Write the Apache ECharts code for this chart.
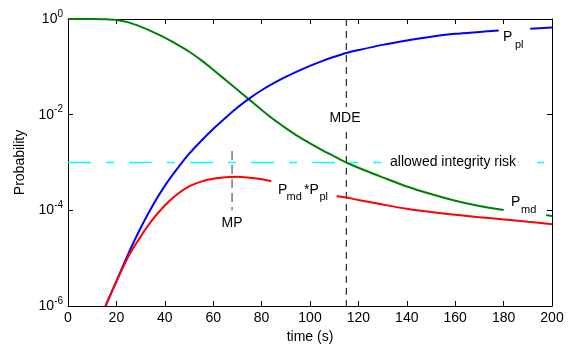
<!DOCTYPE html>
<html>
<head>
<meta charset="utf-8">
<script src="https://cdn.jsdelivr.net/npm/echarts@6/dist/echarts.min.js"></script>
<style>
html,body{margin:0;padding:0;background:#fff;}
#chart{width:569px;height:345px;}
</style>
</head>
<body>
<div id="chart"></div>
<script>
// ---- data ----
const xTicks = [0, 20, 40, 60, 80, 100, 120, 140, 160, 180, 200];
const yTickExponents = [0, -2, -4, -6];

const tGreen = [0,10,15,20,25,30,35,40,45,50,55,60,65,70,75,80,85,90,95,100,105,110,115,120,130,140,150,160,170,180];
const pGreen = [1,1,0.989,0.955,0.851,0.692,0.537,0.407,0.295,0.209,0.138,0.0871,0.0537,0.0331,0.0204,0.0126,0.00794,0.00525,0.00355,0.00251,0.00182,0.00135,0.00100,0.000776,0.000490,0.000316,0.000219,0.000158,0.000123,0.000102];
const tGreen2 = [197.5, 200];
const pGreen2 = [7.94e-5, 7.59e-5];

const tBlue = [15.5,20,25,30,35,40,45,50,55,60,65,70,75,80,85,90,95,100,105,110,115,120,130,140,150,160,170,178];
const pBlue = [1e-6,3.31e-6,1.26e-5,4.27e-5,1.26e-4,3.24e-4,7.24e-4,1.51e-3,2.82e-3,5.01e-3,8.51e-3,0.0141,0.0219,0.0324,0.0457,0.0617,0.0813,0.105,0.132,0.162,0.195,0.224,0.288,0.355,0.427,0.490,0.537,0.575];
const tBlue2 = [191, 200];
const pBlue2 = [0.624, 0.668];

const tRed = [15.5,20,25,30,35,40,45,50,55,60,65,70,75,80,84];
const pRed = [1e-6,3.24e-6,1.10e-5,2.82e-5,6.46e-5,1.26e-4,2.14e-4,3.16e-4,3.98e-4,4.57e-4,4.90e-4,5.01e-4,4.79e-4,4.47e-4,4.07e-4];
const tRed2 = [111,115,120,130,140,150,160,170,180,190,200];
const pRed2 = [1.97e-4,1.86e-4,1.64e-4,1.32e-4,1.08e-4,9.23e-5,8.04e-5,7.16e-5,6.46e-5,5.75e-5,5.13e-5];

// reference lines
const riskLevel = 1e-3;
const riskSeg1 = [0, 129.5];
const riskSeg2 = [193.8, 196.8];
const mdeTime = 115;
const mdeSeg1 = [1, 0.0145];
const mdeSeg2 = [0.00437, 1e-6];
const mpTime = 67.8;
const mpSeg = [0.00174, 1e-4];

function pairs(xs, ys){ return xs.map((x,i)=>[x, ys[i]]); }

const FONT = '"Liberation Sans", Arial, sans-serif';
const chart = echarts.init(document.getElementById('chart'), null, {renderer:'canvas'});

const lineSeries = (xs, ys, color) => ({
  type:'line', data: pairs(xs, ys), showSymbol:false, symbol:'none', smooth:0.3,
  lineStyle:{color, width:2}, z:3, silent:true, animation:false
});
const dashSeries = (data, color, width, dash) => ({
  type:'line', data, showSymbol:false, symbol:'none',
  lineStyle:{color, width, type:dash || [7,5]}, z:2, silent:true, animation:false
});

const axisLineStyle = {lineStyle:{color:'#000', width:1}};

chart.setOption({
  animation:false,
  grid:{left:68, right:17, top:19, bottom:39, containLabel:false, outerBoundsMode:'none'},
  xAxis:[
    {type:'value', min:0, max:200, interval:20, position:'bottom',
     axisLine:{show:true, onZero:false, ...axisLineStyle},
     axisTick:{show:true, inside:true, length:5, lineStyle:{color:'#000'}},
     splitLine:{show:false},
     axisLabel:{margin:5, color:'#000', fontSize:14, fontFamily:FONT},
     name:'time (s)', nameLocation:'middle', nameGap:22,
     nameTextStyle:{color:'#000', fontSize:14, fontFamily:FONT}},
    {type:'value', min:0, max:200, interval:20, position:'top',
     axisLine:{show:true, onZero:false, ...axisLineStyle},
     axisTick:{show:true, inside:true, length:5, lineStyle:{color:'#000'}},
     splitLine:{show:false}, axisLabel:{show:false}}
  ],
  yAxis:[
    {type:'log', logBase:10, min:1e-6, max:1, interval:2, position:'left',
     axisLine:{show:true, onZero:false, ...axisLineStyle},
     axisTick:{show:true, inside:true, length:5, lineStyle:{color:'#000'}},
     minorTick:{show:false}, splitLine:{show:false},
     axisLabel:{margin:5, color:'#000', fontFamily:FONT,
       formatter:function(v){ const e=Math.round(Math.log10(v)); return '{b|10}{s|'+e+'}'; },
       rich:{ b:{fontSize:14, lineHeight:20, fontFamily:FONT, color:'#000', verticalAlign:'middle'},
              s:{fontSize:10, lineHeight:10, fontFamily:FONT, color:'#000', verticalAlign:'top'} }},
     name:'Probability', nameLocation:'middle', nameGap:38, nameRotate:90,
     nameTextStyle:{color:'#000', fontSize:14, fontFamily:FONT}},
    {type:'log', logBase:10, min:1e-6, max:1, interval:2, position:'right',
     axisLine:{show:true, onZero:false, ...axisLineStyle},
     axisTick:{show:true, inside:true, length:5, lineStyle:{color:'#000'}},
     minorTick:{show:false}, splitLine:{show:false}, axisLabel:{show:false}}
  ],
  series:[
    dashSeries([[riskSeg1[0], riskLevel],[riskSeg1[1], riskLevel]], '#00ffff', 1.3, [23,15,8,15]),
    dashSeries([[riskSeg2[0], riskLevel],[riskSeg2[1], riskLevel]], '#00ffff', 1.3, [23,15,8,15]),
    dashSeries([[mdeTime, mdeSeg1[0]],[mdeTime, mdeSeg1[1]]], '#000', 1, [7,5]),
    dashSeries([[mdeTime, mdeSeg2[0]],[mdeTime, mdeSeg2[1]]], '#000', 1, [7,5]),
    dashSeries([[mpTime, mpSeg[0]],[mpTime, mpSeg[1]]], '#777', 1.5, [9,5]),
    lineSeries(tGreen, pGreen, '#008000'),
    lineSeries(tGreen2, pGreen2, '#008000'),
    lineSeries(tBlue, pBlue, '#0000ff'),
    lineSeries(tBlue2, pBlue2, '#0000ff'),
    lineSeries(tRed, pRed, '#ff0000'),
    lineSeries(tRed2, pRed2, '#ff0000')
  ],
  graphic:[
    {type:'text', x:503, y:37, style:{text:'P', font:'14px '+FONT, fill:'#000', align:'left', verticalAlign:'middle'}},
    {type:'text', x:515, y:45, style:{text:'pl', font:'11px '+FONT, fill:'#000', align:'left', verticalAlign:'middle'}},
    {type:'text', x:345, y:118, style:{text:'MDE', font:'14px '+FONT, fill:'#000', align:'center', verticalAlign:'middle'}},
    {type:'text', x:390, y:162, style:{text:'allowed integrity risk', font:'14px '+FONT, fill:'#000', align:'left', verticalAlign:'middle'}},
    {type:'text', x:278, y:190, style:{text:'P', font:'14px '+FONT, fill:'#000', align:'left', verticalAlign:'middle'}},
    {type:'text', x:286.5, y:197, style:{text:'md', font:'11px '+FONT, fill:'#000', align:'left', verticalAlign:'middle'}},
    {type:'text', x:304, y:190, style:{text:'*P', font:'14px '+FONT, fill:'#000', align:'left', verticalAlign:'middle'}},
    {type:'text', x:319.5, y:197, style:{text:'pl', font:'11px '+FONT, fill:'#000', align:'left', verticalAlign:'middle'}},
    {type:'text', x:511, y:202, style:{text:'P', font:'14px '+FONT, fill:'#000', align:'left', verticalAlign:'middle'}},
    {type:'text', x:521, y:209.5, style:{text:'md', font:'11px '+FONT, fill:'#000', align:'left', verticalAlign:'middle'}},
    {type:'text', x:232, y:223, style:{text:'MP', font:'14px '+FONT, fill:'#000', align:'center', verticalAlign:'middle'}}
  ]
});
</script>
</body>
</html>
